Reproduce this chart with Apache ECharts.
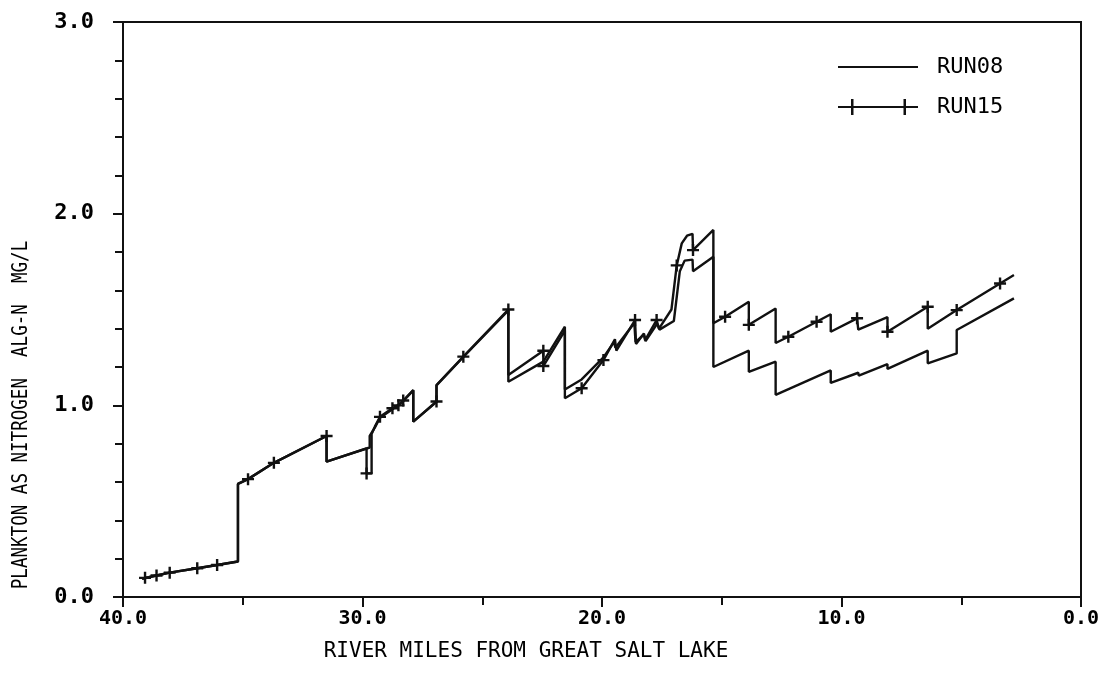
<!DOCTYPE html>
<html>
<head>
<meta charset="utf-8">
<title>Plankton as Nitrogen</title>
<script src="https://cdn.jsdelivr.net/npm/echarts@6/dist/echarts.min.js"></script>
<style>
  html, body { margin: 0; padding: 0; background: #fff; }
  #chart { width: 1105px; height: 675px; }
</style>
</head>
<body>
<div id="chart"></div>
<script>
// River mile (x) and algal nitrogen, mg/L (y) for each model run.
const run08Miles = [39.2, 38.6, 38.05, 36.9, 36.07, 35.2, 35.2, 34.78, 33.7, 31.5, 31.5, 29.7, 29.7, 29.48, 29.27, 28.75, 28.3, 27.88, 27.88, 26.91, 26.91, 25.79, 23.91, 23.91, 22.45, 21.55, 21.55, 20.85, 19.94, 19.5, 19.44, 18.65, 18.6, 18.25, 18.18, 17.7, 17.6, 17.0, 16.75, 16.55, 16.22, 16.2, 15.35, 15.35, 13.87, 13.87, 12.75, 12.75, 10.45, 10.45, 9.3, 9.28, 8.08, 8.08, 6.4, 6.4, 5.19, 5.19, 2.8];
const run08Values = [0.095, 0.112, 0.127, 0.15, 0.167, 0.185, 0.59, 0.615, 0.7, 0.84, 0.706, 0.78, 0.84, 0.885, 0.935, 0.98, 1.022, 1.078, 0.915, 1.018, 1.104, 1.252, 1.495, 1.123, 1.228, 1.41, 1.083, 1.135, 1.25, 1.33, 1.3, 1.43, 1.33, 1.37, 1.335, 1.425, 1.395, 1.44, 1.7, 1.755, 1.76, 1.7, 1.775, 1.2, 1.285, 1.175, 1.228, 1.055, 1.182, 1.117, 1.17, 1.155, 1.215, 1.19, 1.285, 1.219, 1.271, 1.393, 1.558];

const run15Miles = [39.2, 39.08, 38.6, 38.05, 36.9, 36.07, 35.2, 35.2, 34.78, 33.7, 31.5, 31.5, 29.83, 29.83, 29.62, 29.62, 29.48, 29.27, 28.75, 28.5, 28.3, 27.88, 27.88, 26.91, 26.91, 25.79, 23.91, 23.91, 22.45, 22.45, 21.55, 21.55, 20.85, 19.94, 19.46, 19.4, 18.62, 18.58, 18.25, 18.2, 17.72, 17.62, 17.1, 16.88, 16.67, 16.45, 16.22, 16.2, 15.35, 15.35, 14.86, 13.87, 13.87, 12.75, 12.75, 12.22, 11.04, 10.45, 10.45, 9.35, 9.3, 8.08, 8.08, 6.4, 6.4, 5.19, 3.38, 2.8];
const run15Values = [0.095, 0.1, 0.112, 0.127, 0.15, 0.167, 0.185, 0.59, 0.615, 0.7, 0.84, 0.706, 0.776, 0.645, 0.645, 0.85, 0.89, 0.94, 0.985, 1.0, 1.025, 1.08, 0.915, 1.02, 1.106, 1.254, 1.5, 1.158, 1.285, 1.205, 1.39, 1.037, 1.089, 1.236, 1.345, 1.285, 1.445, 1.32, 1.375, 1.34, 1.445, 1.4, 1.5, 1.73, 1.845, 1.885, 1.895, 1.81, 1.915, 1.428, 1.462, 1.54, 1.42, 1.505, 1.325, 1.358, 1.436, 1.475, 1.384, 1.454, 1.395, 1.46, 1.384, 1.514, 1.4, 1.497, 1.636, 1.68];
// 1 where RUN15 has a plotted "+" symbol
const run15Marks = [0, 1, 1, 1, 1, 1, 0, 0, 1, 1, 1, 0, 0, 1, 0, 0, 0, 1, 1, 1, 1, 0, 0, 1, 0, 1, 1, 0, 1, 1, 0, 0, 1, 1, 0, 0, 1, 0, 0, 0, 1, 0, 0, 1, 0, 0, 0, 1, 0, 0, 1, 0, 1, 0, 0, 1, 1, 0, 0, 1, 0, 0, 1, 1, 0, 1, 1, 0];

const xTicks = [40, 30, 20, 10, 0];
const yTicks = [0, 1, 2, 3];

const FONT = '"DejaVu Sans Mono", "Liberation Mono", monospace';
const INK = '#111';
const PLUS = 'path://M4,0H6V4H10V6H6V10H4V6H0V4H4Z';

const run08Data = run08Miles.map((m, i) => [m, run08Values[i]]);
const run15Data = run15Miles.map((m, i) => (
  run15Marks[i] ? { value: [m, run15Values[i]] } : { value: [m, run15Values[i]], symbol: 'none' }
));

const chart = echarts.init(document.getElementById('chart'), null, { renderer: 'canvas' });

chart.setOption({
  animation: false,
  backgroundColor: '#fff',
  grid: {
    left: 123, right: 24, top: 22, bottom: 78,
    show: true, borderColor: INK, borderWidth: 2, backgroundColor: 'transparent'
  },
  xAxis: {
    type: 'value',
    inverse: true,
    min: Math.min(...xTicks),
    max: Math.max(...xTicks),
    interval: 10,
    axisLine: { onZero: false, lineStyle: { color: INK, width: 2 } },
    axisTick: { length: 10, lineStyle: { color: INK, width: 2 } },
    minorTick: { show: true, splitNumber: 2, length: 8, lineStyle: { color: INK, width: 2 } },
    splitLine: { show: false },
    axisLabel: {
      margin: 12, color: '#000', fontFamily: FONT, fontSize: 20, fontWeight: 'bold',
      formatter: v => v.toFixed(1)
    }
  },
  yAxis: {
    type: 'value',
    min: Math.min(...yTicks),
    max: Math.max(...yTicks),
    interval: 1,
    axisLine: { onZero: false, lineStyle: { color: INK, width: 2 } },
    axisTick: { length: 10, lineStyle: { color: INK, width: 2 } },
    minorTick: { show: true, splitNumber: 5, length: 8, lineStyle: { color: INK, width: 2 } },
    splitLine: { show: false },
    axisLabel: {
      margin: 29, color: '#000', fontFamily: FONT, fontSize: 22, fontWeight: 'bold',
      formatter: v => v.toFixed(1)
    }
  },
  legend: {
    orient: 'vertical',
    left: 833,
    top: 51,
    itemWidth: 80,
    itemHeight: 16,
    itemGap: 18,
    selectedMode: false,
    textStyle: { fontFamily: FONT, fontSize: 22, color: '#000', lineHeight: 22, padding: [0, 0, 0, 14] },
    data: [
      { name: 'RUN08', icon: 'path://M0,7H80V9H0Z' },
      { name: 'RUN15', icon: 'path://M0,9H80V11H0Z M13,2H15.5V18H13Z M65.5,2H68V18H65.5Z' }
    ]
  },
  graphic: [
    {
      type: 'text', x: 22, y: 415, rotation: Math.PI / 2, scaleX: 0.835,
      style: {
        text: 'PLANKTON AS NITROGEN  ALG-N  MG/L', fontFamily: FONT, fontSize: 21,
        fill: '#000', align: 'center', verticalAlign: 'middle'
      }
    },
    {
      type: 'text', x: 526, y: 652,
      style: {
        text: 'RIVER MILES FROM GREAT SALT LAKE', fontFamily: FONT, fontSize: 21,
        fill: '#000', align: 'center', verticalAlign: 'middle'
      }
    }
  ],
  series: [
    {
      name: 'RUN08',
      type: 'line',
      data: run08Data,
      symbol: 'none',
      lineStyle: { color: INK, width: 2.4 },
      itemStyle: { color: INK },
      silent: true
    },
    {
      name: 'RUN15',
      type: 'line',
      data: run15Data,
      symbol: PLUS,
      symbolSize: 12,
      lineStyle: { color: INK, width: 2.4 },
      itemStyle: { color: INK },
      silent: true
    }
  ]
});
</script>
</body>
</html>
